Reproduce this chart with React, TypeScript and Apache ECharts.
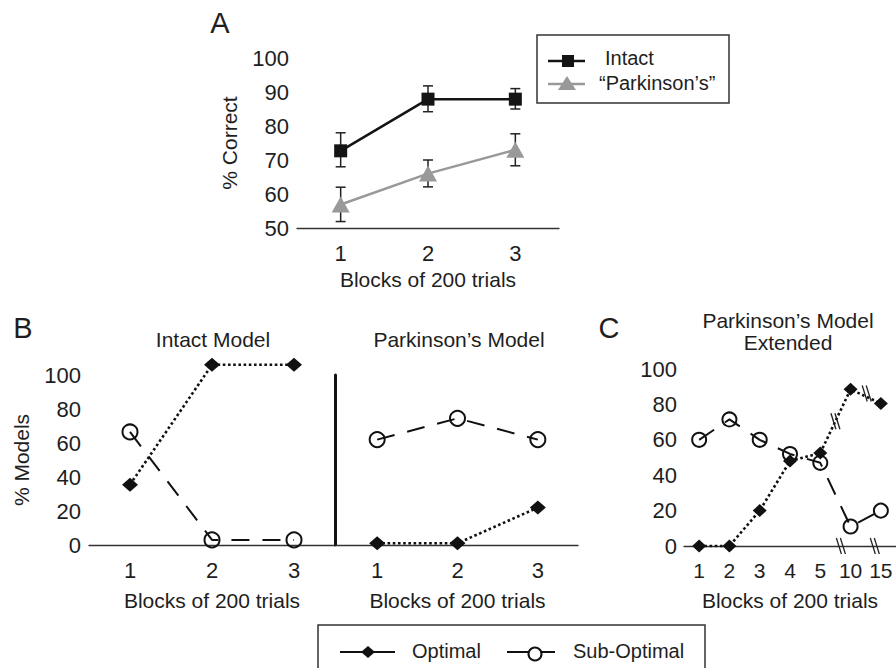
import React, { useEffect, useRef } from "react";
import * as echarts from "echarts";

// ---------- data ----------
const blocksABC = ["1", "2", "3"];
const blocksC = ["1", "2", "3", "4", "5", "10", "15"];

// Panel A (% correct)
const intactMean = [72.7, 87.9, 87.9];
const intactLow = [68, 84.2, 85];
const intactHigh = [78, 91.8, 91];
const parkMean = [56.9, 66, 73];
const parkLow = [51.9, 62.1, 68.3];
const parkHigh = [62, 70, 77.7];

// Panel B (% models)
const intactOptimal = [35.5, 106, 106];
const intactSubOptimal = [66.5, 3, 3];
const parkOptimal = [1, 1, 22];
const parkSubOptimal = [62, 74.5, 62];

// Panel C (% models, extended)
const extOptimal = [0, 0, 20, 48, 52.5, 88.5, 80.5];
const extSubOptimal = [60, 71.5, 60, 52, 47, 11, 20];

const yTicksA = { min: 50, max: 100, interval: 10 };
const yTicksB = { min: 0, max: 100, interval: 20 };

// ---------- styles ----------
const FONT = "'Liberation Sans', Arial, Helvetica, sans-serif";
const TXT = "#1e1e1e";
const AX = "#333";

const axisBase = {
  axisLine: { lineStyle: { color: AX, width: 1.3 } },
  axisTick: { length: 6, lineStyle: { color: AX, width: 1.3 } },
  splitLine: { show: false },
  nameTextStyle: { fontFamily: FONT, fontSize: 21, color: TXT },
};

const labelStyle = (margin: number, size = 22) => ({
  fontFamily: FONT,
  fontSize: size,
  color: TXT,
  margin,
  interval: 0,
  hideOverlap: false,
});

const errorBars = (low: number[], high: number[], xi: number, yi: number) => ({
  type: "custom",
  xAxisIndex: xi,
  yAxisIndex: yi,
  silent: true,
  z: 1,
  clip: false,
  data: low.map((l, i) => [i, l, high[i]]),
  encode: { x: 0, y: [1, 2] },
  renderItem: (_p: any, api: any) => {
    const x = api.value(0);
    const a = api.coord([x, api.value(1)]);
    const b = api.coord([x, api.value(2)]);
    const w = 5;
    const st = { stroke: "#222", lineWidth: 1.5 };
    return {
      type: "group",
      children: [
        { type: "line", shape: { x1: a[0], y1: a[1], x2: b[0], y2: b[1] }, style: st },
        { type: "line", shape: { x1: a[0] - w, y1: a[1], x2: a[0] + w, y2: a[1] }, style: st },
        { type: "line", shape: { x1: b[0] - w, y1: b[1], x2: b[0] + w, y2: b[1] }, style: st },
      ],
    };
  },
});

const optimalSeries = (data: number[], xi: number, size: number[]) => ({
  name: "Optimal",
  type: "line",
  xAxisIndex: xi,
  yAxisIndex: xi,
  data,
  clip: false,
  z: 3,
  symbol: "diamond",
  symbolSize: size,
  itemStyle: { color: "#111" },
  lineStyle: { color: "#111", width: 2.6, type: [2.6, 2.6] },
});

const subOptimalSeries = (data: number[], xi: number, size: number) => ({
  name: "Sub-Optimal",
  type: "line",
  xAxisIndex: xi,
  yAxisIndex: xi,
  data,
  clip: false,
  z: 2,
  symbol: "circle",
  symbolSize: size,
  itemStyle: { color: "rgba(0,0,0,0)", borderColor: "#111", borderWidth: 2 },
  lineStyle: { color: "#111", width: 2, type: [18, 13] },
});

function buildOption() {
  const grids = [
    { left: 297, top: 58, width: 262, height: 170 },
    { left: 89, top: 375, width: 246, height: 170 },
    { left: 337, top: 375, width: 241, height: 170 },
    { left: 684, top: 369, width: 212, height: 177 },
  ];

  const xAxis = [
    { ...axisBase, gridIndex: 0, type: "category", data: blocksABC, name: "Blocks of 200 trials", nameLocation: "middle", nameGap: 41, axisLabel: labelStyle(14) },
    { ...axisBase, gridIndex: 1, type: "category", data: blocksABC, name: "Blocks of 200 trials", nameLocation: "middle", nameGap: 45, axisLabel: labelStyle(14) },
    { ...axisBase, gridIndex: 2, type: "category", data: blocksABC, name: "Blocks of 200 trials", nameLocation: "middle", nameGap: 45, axisLabel: labelStyle(14) },
    { ...axisBase, gridIndex: 3, type: "category", data: blocksC, name: "Blocks of 200 trials", nameLocation: "middle", nameGap: 44, axisLabel: labelStyle(14, 21) },
  ];

  const yAxis = [
    { ...axisBase, gridIndex: 0, type: "value", ...yTicksA, name: "% Correct", nameLocation: "middle", nameGap: 57, axisLabel: labelStyle(8) },
    { ...axisBase, gridIndex: 1, type: "value", ...yTicksB, name: "% Models", nameLocation: "middle", nameGap: 57, axisLabel: labelStyle(8) },
    {
      gridIndex: 2, type: "value", ...yTicksB, offset: 2,
      axisLine: { show: true, lineStyle: { color: "#111", width: 3 } },
      axisTick: { show: false }, axisLabel: { show: false }, splitLine: { show: false },
    },
    { ...axisBase, gridIndex: 3, type: "value", ...yTicksB, axisLabel: labelStyle(7) },
  ];

  const series: any[] = [
    errorBars(intactLow, intactHigh, 0, 0),
    errorBars(parkLow, parkHigh, 0, 0),
    {
      name: "Intact", type: "line", xAxisIndex: 0, yAxisIndex: 0, data: intactMean, z: 3,
      symbol: "rect", symbolSize: 13,
      itemStyle: { color: "#141414" }, lineStyle: { color: "#141414", width: 2.5 },
    },
    {
      name: "“Parkinson’s”", type: "line", xAxisIndex: 0, yAxisIndex: 0, data: parkMean, z: 3,
      symbol: "triangle", symbolSize: [18, 16],
      itemStyle: { color: "#999" }, lineStyle: { color: "#999", width: 2.5 },
    },
    optimalSeries(intactOptimal, 1, [16, 14]),
    subOptimalSeries(intactSubOptimal, 1, 15),
    optimalSeries(parkOptimal, 2, [16, 14]),
    subOptimalSeries(parkSubOptimal, 2, 15),
    optimalSeries(extOptimal, 3, [14, 13]),
    subOptimalSeries(extSubOptimal, 3, 14),
    {
      type: "custom", xAxisIndex: 3, yAxisIndex: 3, silent: true, clip: false, z: 5,
      data: [[0, 0]],
      renderItem: (_p: any, api: any) => {
        const c4 = api.coord([4, extOptimal[4]]);
        const c5 = api.coord([5, extOptimal[5]]);
        const c6 = api.coord([6, extOptimal[6]]);
        const b4 = api.coord([4, 0]);
        const b5 = api.coord([5, 0]);
        const b6 = api.coord([6, 0]);
        const marks = [
          [(c4[0] + c5[0]) / 2, (c4[1] + c5[1]) / 2],
          [(c5[0] + c6[0]) / 2 + 1, (c5[1] + c6[1]) / 2 - 3],
          [b4[0] + 0.68 * (b5[0] - b4[0]), b4[1]],
          [b5[0] + 0.8 * (b6[0] - b5[0]), b5[1]],
        ];
        const children: any[] = [];
        marks.forEach(([x, y]) => {
          [-2, 2].forEach((d) => {
            children.push({
              type: "line",
              shape: { x1: x + d - 2.5, y1: y - 8, x2: x + d + 2.5, y2: y + 8 },
              style: { stroke: "#222", lineWidth: 1.3 },
            });
          });
        });
        return { type: "group", children };
      },
    },
  ];

  const txt = (text: string, x: number, y: number, size = 20, align = "center") => ({
    type: "text",
    x,
    y,
    silent: true,
    style: {
      text,
      fill: TXT,
      font: `${size}px ${FONT}`,
      textAlign: align,
      textVerticalAlign: "middle",
    },
  });

  const graphic: any[] = [
    txt("A", 220, 23, 29),
    txt("B", 23, 328, 29),
    txt("C", 609, 328, 29),
    txt("Intact Model", 213, 339, 21),
    txt("Parkinson’s Model", 459, 339, 21),
    txt("Parkinson’s Model", 788, 320, 21),
    txt("Extended", 788, 342, 21),
    // Legend A
    { type: "rect", shape: { x: 537, y: 35, width: 192, height: 68 }, style: { fill: "#fff", stroke: AX, lineWidth: 1.5 }, z: 10 },
    { type: "line", shape: { x1: 548, y1: 61, x2: 585, y2: 61 }, style: { stroke: "#141414", lineWidth: 2.5 }, z: 11 },
    { type: "rect", shape: { x: 562, y: 55, width: 12, height: 12 }, style: { fill: "#141414" }, z: 11 },
    { ...txt("Intact", 605, 58, 20, "left"), z: 11 },
    { type: "line", shape: { x1: 548, y1: 84, x2: 585, y2: 84 }, style: { stroke: "#999", lineWidth: 2.5 }, z: 11 },
    { type: "polygon", shape: { points: [[567, 76], [576, 90], [558, 90]] }, style: { fill: "#999" }, z: 11 },
    { ...txt("“Parkinson’s”", 599, 83, 20, "left"), z: 11 },
    // Legend bottom
    { type: "rect", shape: { x: 318, y: 625, width: 387, height: 60 }, style: { fill: "#fff", stroke: AX, lineWidth: 1.5 }, z: 10 },
    { type: "line", shape: { x1: 340, y1: 652, x2: 395, y2: 652 }, style: { stroke: "#111", lineWidth: 2 }, z: 11 },
    { type: "polygon", shape: { points: [[368, 646], [375, 652], [368, 658], [361, 652]] }, style: { fill: "#111" }, z: 11 },
    { ...txt("Optimal", 412, 651, 20, "left"), z: 11 },
    { type: "line", shape: { x1: 507, y1: 652, x2: 555, y2: 652 }, style: { stroke: "#111", lineWidth: 2 }, z: 11 },
    { type: "circle", shape: { cx: 535, cy: 654, r: 6.5 }, style: { fill: "#fff", stroke: "#111", lineWidth: 2 }, z: 12 },
    { ...txt("Sub-Optimal", 573, 651, 20, "left"), z: 11 },
  ];

  return {
    animation: false,
    backgroundColor: "#fff",
    textStyle: { fontFamily: FONT },
    grid: grids,
    xAxis,
    yAxis,
    series,
    graphic,
  };
}

export default function App() {
  const ref = useRef<HTMLDivElement>(null);
  useEffect(() => {
    document.body.style.margin = "0";
    if (!ref.current) return;
    const chart = echarts.init(ref.current, undefined, { renderer: "svg" });
    chart.setOption(buildOption() as any);
    return () => chart.dispose();
  }, []);
  return <div ref={ref} style={{ width: 896, height: 668 }} />;
}
